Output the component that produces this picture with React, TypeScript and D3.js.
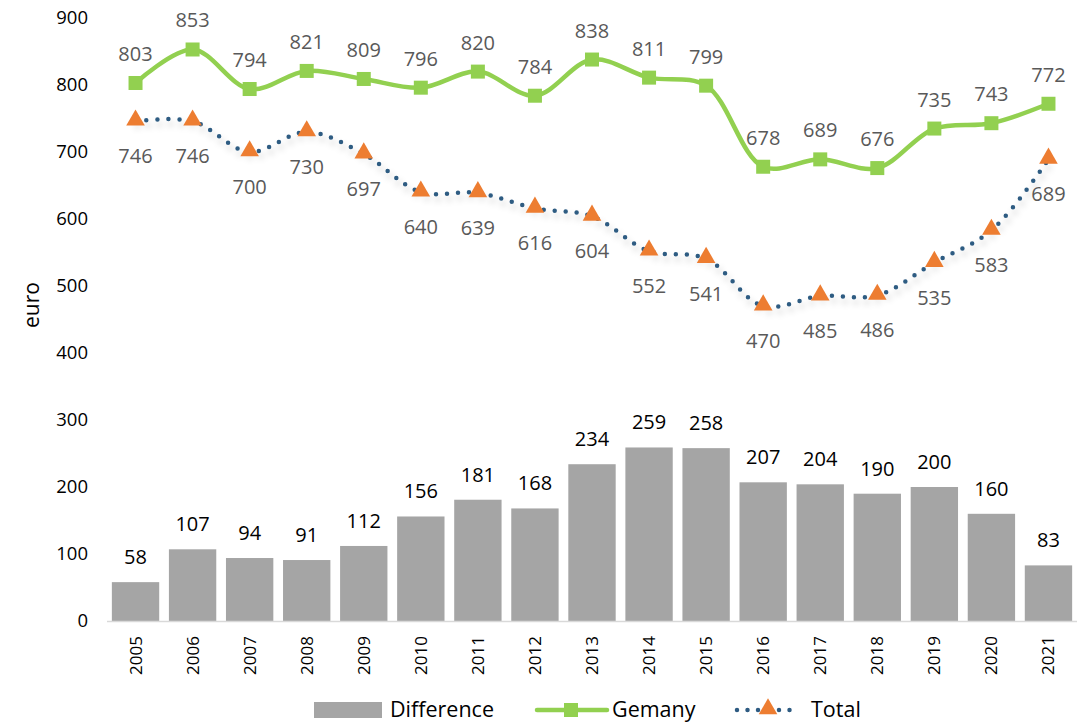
import { useEffect, useRef } from "react"
import * as d3 from "d3"

const years = ["2005", "2006", "2007", "2008", "2009", "2010", "2011", "2012", "2013", "2014", "2015", "2016", "2017", "2018", "2019", "2020", "2021"]
const germany = [803, 853, 794, 821, 809, 796, 820, 784, 838, 811, 799, 678, 689, 676, 735, 743, 772]
const total = [746, 746, 700, 730, 697, 640, 639, 616, 604, 552, 541, 470, 485, 486, 535, 583, 689]
const difference = [58, 107, 94, 91, 112, 156, 181, 168, 234, 259, 258, 207, 204, 190, 200, 160, 83]
const yTicks = [0, 100, 200, 300, 400, 500, 600, 700, 800, 900]

const W = 1092
const H = 725
const FONT = "'Open Sans', 'Noto Sans', sans-serif"
const GREEN = "#92D050"
const BLUE = "#2E5B82"
const ORANGE = "#ED7D31"
const GREY = "#A5A5A5"
const LABEL = "#595959"

const App = () => {
  const svgRef = useRef<SVGSVGElement | null>(null)

  useEffect(() => {
    const svg = d3.select(svgRef.current)
    svg.selectAll("*").remove()

    const x = d3.scaleBand().domain(years).range([107, 1077]).paddingInner(0.17).paddingOuter(0.085)
    const y = d3.scaleLinear().domain([0, 900]).range([621, 18])
    const cx = (i: number) => (x(years[i]) || 0) + x.bandwidth() / 2

    const defs = svg.append("defs")
    const f = defs.append("filter").attr("id", "shadow").attr("x", "-5%").attr("y", "-20%").attr("width", "110%").attr("height", "160%")
    f.append("feDropShadow").attr("dx", 2).attr("dy", 5).attr("stdDeviation", 3)
      .attr("flood-color", "#000").attr("flood-opacity", 0.22)

    // y axis labels
    const yAxis = svg.append("g").attr("transform", "translate(96,0)")
      .call(d3.axisLeft(y).tickValues(yTicks).tickSize(0).tickPadding(8))
    yAxis.select(".domain").remove()
    yAxis.selectAll("text").attr("font-family", FONT).attr("font-size", 18.5).attr("fill", "#000")

    svg.append("text")
      .attr("transform", "translate(39,305) rotate(-90)")
      .attr("text-anchor", "middle")
      .attr("font-family", FONT).attr("font-size", 21).attr("fill", "#000")
      .text("euro")

    // bars
    svg.append("g").selectAll("rect").data(difference).enter().append("rect")
      .attr("x", (_, i) => x(years[i]) || 0)
      .attr("y", d => y(d))
      .attr("width", x.bandwidth())
      .attr("height", d => y(0) - y(d))
      .attr("fill", GREY)

    svg.append("g").selectAll("text").data(difference).enter().append("text")
      .attr("x", (_, i) => cx(i))
      .attr("y", d => y(d) - 18)
      .attr("text-anchor", "middle")
      .attr("font-family", FONT).attr("font-size", 20).attr("fill", "#000")
      .text(d => d)

    // x axis
    svg.append("line").attr("x1", 107).attr("x2", 1077).attr("y1", y(0) + 0.5).attr("y2", y(0) + 0.5)
      .attr("stroke", "#D9D9D9").attr("stroke-width", 1.5)

    svg.append("g").selectAll("text").data(years).enter().append("text")
      .attr("transform", (_, i) => `translate(${cx(i) + 6},636) rotate(-90)`)
      .attr("text-anchor", "end")
      .attr("font-family", FONT).attr("font-size", 17).attr("fill", "#000")
      .text(d => d)

    // total line (dotted with shadow)
    const totalLine = d3.line<number>().x((_, i) => cx(i)).y(d => y(d)).curve(d3.curveCatmullRom.alpha(0.5))
    svg.append("path").datum(total)
      .attr("d", totalLine)
      .attr("fill", "none").attr("stroke", BLUE).attr("stroke-width", 4.5)
      .attr("stroke-linecap", "round").attr("stroke-dasharray", "0 11")
      .attr("filter", "url(#shadow)")

    const tri = d3.symbol().type(d3.symbolTriangle).size(150)
    svg.append("g").selectAll("path").data(total).enter().append("path")
      .attr("d", tri)
      .attr("transform", (d, i) => `translate(${cx(i)},${y(d) - 1})`)
      .attr("fill", ORANGE)

    svg.append("g").selectAll("text").data(total).enter().append("text")
      .attr("x", (_, i) => cx(i))
      .attr("y", d => y(d) + 42)
      .attr("text-anchor", "middle")
      .attr("font-family", FONT).attr("font-size", 20).attr("fill", LABEL)
      .text(d => d)

    // germany line
    const gLine = d3.line<number>().x((_, i) => cx(i)).y(d => y(d)).curve(d3.curveCatmullRom.alpha(0.5))
    svg.append("path").datum(germany)
      .attr("d", gLine)
      .attr("fill", "none").attr("stroke", GREEN).attr("stroke-width", 4.5)

    svg.append("g").selectAll("rect").data(germany).enter().append("rect")
      .attr("x", (_, i) => cx(i) - 7)
      .attr("y", d => y(d) - 7)
      .attr("width", 14).attr("height", 14)
      .attr("fill", GREEN)

    svg.append("g").selectAll("text").data(germany).enter().append("text")
      .attr("x", (_, i) => cx(i))
      .attr("y", d => y(d) - 22)
      .attr("text-anchor", "middle")
      .attr("font-family", FONT).attr("font-size", 20).attr("fill", LABEL)
      .text(d => d)

    // legend
    const lg = svg.append("g").attr("font-family", FONT).attr("font-size", 21.5).attr("fill", "#000")
    lg.append("rect").attr("x", 314).attr("y", 702).attr("width", 68).attr("height", 16).attr("fill", GREY)
    lg.append("text").attr("x", 390).attr("y", 717).text("Difference")
    lg.append("line").attr("x1", 537).attr("x2", 607).attr("y1", 710).attr("y2", 710)
      .attr("stroke", GREEN).attr("stroke-width", 4.5).attr("stroke-linecap", "round")
    lg.append("rect").attr("x", 564).attr("y", 703).attr("width", 14).attr("height", 14).attr("fill", GREEN)
    lg.append("text").attr("x", 612).attr("y", 717).text("Gemany")
    lg.append("line").attr("x1", 737).attr("x2", 800).attr("y1", 710).attr("y2", 710)
      .attr("stroke", BLUE).attr("stroke-width", 4.5).attr("stroke-linecap", "round").attr("stroke-dasharray", "0 10.5")
    lg.append("path").attr("d", tri).attr("transform", "translate(768,709)").attr("fill", ORANGE)
    lg.append("text").attr("x", 811).attr("y", 717).text("Total")
  }, [])

  return (
    <div style={{ position: "absolute", left: 0, top: 0, width: W, height: H, background: "#fff" }}>
      <svg ref={svgRef} width={W} height={H} style={{ display: "block" }} />
    </div>
  )
}

export default App
